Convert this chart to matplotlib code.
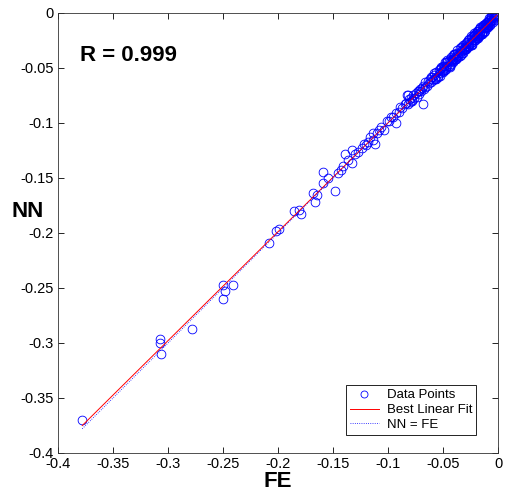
import numpy as np
import matplotlib
matplotlib.use('Agg')
import matplotlib.pyplot as plt
from matplotlib.ticker import FuncFormatter

plt.rcParams['font.family'] = ['Liberation Sans', 'DejaVu Sans']
plt.rcParams['axes.unicode_minus'] = False

# network output (NN) against finite element result (FE)
fe_sparse = [-0.378, -0.307, -0.307, -0.306, -0.2785, -0.2497, -0.248, -0.2503, -0.2412,
             -0.2079, -0.2018, -0.1988, -0.1855, -0.1812, -0.1794, -0.1685, -0.1648, -0.1661,
             -0.1588, -0.1545, -0.1588, -0.148, -0.1452, -0.1425, -0.1406, -0.139, -0.136,
             -0.133, -0.133, -0.130, -0.127, -0.124, -0.122, -0.120, -0.118, -0.116, -0.1118,
             -0.114, -0.1139, -0.110, -0.1079, -0.106, -0.104, -0.1012, -0.099, -0.097,
             -0.0952, -0.0927, -0.093, -0.0891, -0.090, -0.087, -0.085, -0.083, -0.0815, -0.0679]
nn_sparse = [-0.370, -0.2967, -0.300, -0.3097, -0.2873, -0.2473, -0.2525, -0.2597, -0.247,
             -0.2088, -0.1982, -0.1967, -0.180, -0.1791, -0.1827, -0.1633, -0.1655, -0.1715,
             -0.1443, -0.1503, -0.1542, -0.1615, -0.1452, -0.1425, -0.139, -0.128, -0.1336,
             -0.125, -0.136, -0.128, -0.126, -0.123, -0.119, -0.120, -0.117, -0.113, -0.1194,
             -0.1088, -0.1155, -0.109, -0.1064, -0.104, -0.106, -0.0979, -0.098, -0.095,
             -0.0943, -0.0997, -0.091, -0.0852, -0.090, -0.086, -0.083, -0.0745, -0.0745, -0.0827]

fe_mid = [-0.084, -0.082, -0.081, -0.080, -0.079, -0.078, -0.077, -0.076, -0.075, -0.074,
          -0.073, -0.072, -0.071, -0.070, -0.069, -0.068, -0.067, -0.066, -0.065, -0.064,
          -0.063, -0.062, -0.061, -0.060, -0.059, -0.058, -0.057, -0.056, -0.055, -0.054,
          -0.053, -0.052, -0.051, -0.078, -0.072, -0.066, -0.061, -0.057, -0.053]
nn_mid = [-0.082, -0.083, -0.078, -0.081, -0.077, -0.079, -0.075, -0.077, -0.073, -0.076,
          -0.071, -0.074, -0.069, -0.071, -0.068, -0.066, -0.069, -0.063, -0.066, -0.062,
          -0.064, -0.060, -0.063, -0.058, -0.061, -0.056, -0.059, -0.054, -0.057, -0.052,
          -0.055, -0.050, -0.053, -0.080, -0.071, -0.067, -0.058, -0.060, -0.051]

fe_dense = [-0.050, -0.050, -0.049, -0.049, -0.048, -0.048, -0.047, -0.047, -0.046, -0.046,
            -0.045, -0.045, -0.044, -0.044, -0.043, -0.043, -0.042, -0.042, -0.041, -0.041,
            -0.040, -0.040, -0.039, -0.039, -0.038, -0.038, -0.037, -0.037, -0.036, -0.036,
            -0.035, -0.035, -0.034, -0.034, -0.033, -0.033, -0.032, -0.032, -0.031, -0.031,
            -0.030, -0.030, -0.029, -0.029, -0.028, -0.028, -0.027, -0.027, -0.026, -0.026,
            -0.025, -0.025, -0.024, -0.024, -0.023, -0.023, -0.022, -0.022, -0.021, -0.021,
            -0.020, -0.020, -0.019, -0.019, -0.018, -0.018, -0.017, -0.017, -0.016, -0.016,
            -0.015, -0.015, -0.014, -0.014, -0.013, -0.013, -0.012, -0.012, -0.011, -0.011,
            -0.010, -0.010, -0.009, -0.009, -0.008, -0.008, -0.007, -0.007, -0.006, -0.006,
            -0.005, -0.005, -0.004, -0.004, -0.003, -0.003, -0.002, -0.002, -0.001, -0.001,
            -0.029, -0.026, -0.024, -0.021, -0.019, -0.017, -0.015, -0.013, -0.011, -0.009,
            -0.028, -0.025, -0.022, -0.018, -0.016, -0.014, -0.012, -0.010, -0.008, -0.006,
            -0.058, -0.055, -0.052, -0.049, -0.046, -0.043, -0.040, -0.037, -0.034, -0.031,
            -0.056, -0.053, -0.050, -0.047, -0.044, -0.041, -0.038, -0.035, -0.032, -0.029,
            -0.027, -0.024, -0.021, -0.018, -0.015, -0.012, -0.009, -0.007, -0.005, -0.003,
            -0.025, -0.022, -0.019, -0.016, -0.013, -0.010, -0.008, -0.006, -0.004, -0.002]
nn_dense = [-0.048, -0.053, -0.050, -0.048, -0.045, -0.052, -0.049, -0.045, -0.045, -0.048,
            -0.048, -0.044, -0.042, -0.049, -0.043, -0.040, -0.044, -0.043, -0.038, -0.044,
            -0.041, -0.037, -0.037, -0.042, -0.042, -0.039, -0.036, -0.034, -0.038, -0.040,
            -0.032, -0.036, -0.035, -0.038, -0.031, -0.036, -0.033, -0.029, -0.034, -0.032,
            -0.028, -0.033, -0.030, -0.027, -0.031, -0.026, -0.025, -0.030, -0.028, -0.024,
            -0.027, -0.029, -0.022, -0.026, -0.025, -0.021, -0.024, -0.020, -0.019, -0.025,
            -0.022, -0.018, -0.020, -0.023, -0.016, -0.021, -0.019, -0.015, -0.017, -0.020,
            -0.013, -0.018, -0.016, -0.012, -0.014, -0.017, -0.010, -0.014, -0.013, -0.009,
            -0.011, -0.013, -0.008, -0.011, -0.009, -0.006, -0.008, -0.010, -0.005, -0.007,
            -0.006, -0.004, -0.005, -0.003, -0.003, -0.004, -0.002, -0.003, -0.001, -0.002,
            -0.033, -0.030, -0.028, -0.025, -0.023, -0.021, -0.019, -0.017, -0.014, -0.012,
            -0.026, -0.023, -0.020, -0.016, -0.014, -0.011, -0.010, -0.008, -0.006, -0.004,
            -0.055, -0.058, -0.049, -0.052, -0.043, -0.046, -0.037, -0.040, -0.031, -0.034,
            -0.060, -0.057, -0.054, -0.051, -0.048, -0.045, -0.042, -0.039, -0.036, -0.033,
            -0.031, -0.029, -0.025, -0.023, -0.019, -0.016, -0.013, -0.011, -0.008, -0.006,
            -0.021, -0.018, -0.016, -0.013, -0.011, -0.008, -0.005, -0.003, -0.002, -0.001]

r_value = 0.999

fe = np.array(fe_sparse + fe_mid + fe_dense)
nn = np.array(nn_sparse + nn_mid + nn_dense)

# least squares line through the points
slope, offset = np.polyfit(fe, nn, 1)
x_line = np.array([fe.min(), fe.max()])

fig = plt.figure(figsize=(5.05, 4.99), dpi=100)
ax = fig.add_axes([0.1149, 0.0922, 0.8713, 0.8818])

ax.plot(fe, nn, 'o', mfc='none', mec='#0000ff', mew=0.6, ms=6.3, label='Data Points')
ax.plot(x_line, slope * x_line + offset, '-', color='#ff0000', lw=0.7, label='Best Linear Fit')
ax.plot(x_line, x_line, ':', color='#0000ff', lw=0.6, label='NN = FE')


def tick_text(v, pos):
    v = round(v, 2)
    return '0' if v == 0 else '%g' % v


ax.set_xlim(-0.4, 0)
ax.set_ylim(-0.4, 0)
ticks = np.arange(-0.4, 0.001, 0.05)
ax.set_xticks(ticks)
ax.set_yticks(ticks)
ax.xaxis.set_major_formatter(FuncFormatter(tick_text))
ax.yaxis.set_major_formatter(FuncFormatter(tick_text))
ax.tick_params(direction='in', top=True, right=True, length=4, width=0.6,
               labelsize=10.5, pad=3)
for s in ax.spines.values():
    s.set_linewidth(0.6)
    s.set_color('#333333')

ax.set_xlabel('FE', fontsize=16, fontweight='bold', labelpad=0)
ax.set_ylabel('NN', fontsize=16, fontweight='bold', rotation=0, va='center', ha='center')
ax.yaxis.set_label_coords(-0.068, 0.548)

ax.text(-0.38, -0.039, 'R = %.3f' % r_value, fontsize=16, fontweight='bold',
        ha='left', va='center')

leg = ax.legend(loc='lower right', bbox_to_anchor=(0.95, 0.041), fontsize=9.5,
                fancybox=False, edgecolor='black', framealpha=1, borderpad=0.3,
                labelspacing=0.2, handlelength=2.2, handletextpad=0.6,
                borderaxespad=0, markerscale=0.8)
leg.get_frame().set_linewidth(0.6)

fig.savefig('out.png', dpi=100)
